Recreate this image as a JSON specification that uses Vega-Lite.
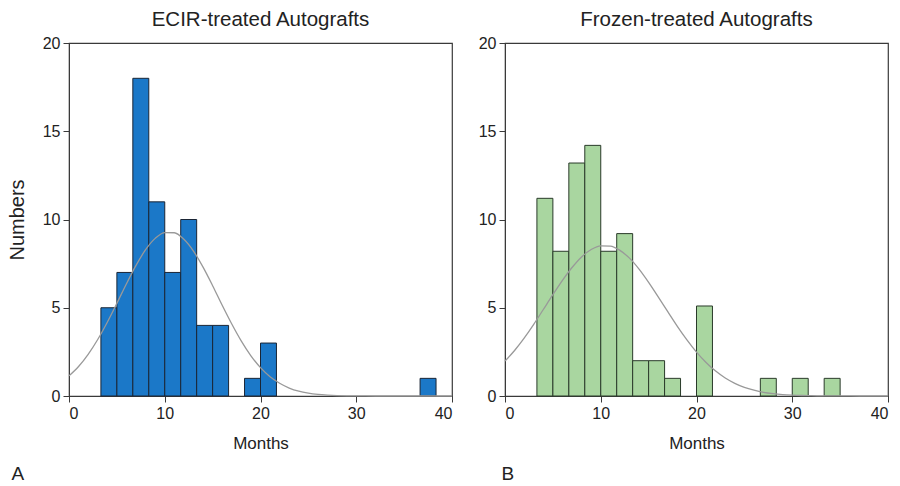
{
  "$schema": "https://vega.github.io/schema/vega-lite/v6.json",
  "padding": {"left": 6, "top": 8, "right": 5, "bottom": 0},
  "background": "white",
  "config": {
    "font": "Liberation Sans",
    "view": {"stroke": "#3a3a3a", "strokeWidth": 1.2},
    "axis": {
      "grid": false,
      "domainColor": "#3a3a3a",
      "tickColor": "#3a3a3a",
      "tickSize": 6,
      "labelFontSize": 16,
      "labelColor": "#222",
      "titleFontSize": 17,
      "titleFontWeight": "normal",
      "titleColor": "#222",
      "labelPadding": 3
    },
    "title": {"fontSize": 20.5, "fontWeight": "normal", "color": "#222", "offset": 5},
    "concat": {"spacing": 21}
  },
  "datasets": {
    "ecir_bars": [
      {"start": 3.333, "end": 5.0, "count": 5},
      {"start": 5.0, "end": 6.667, "count": 7},
      {"start": 6.667, "end": 8.333, "count": 18},
      {"start": 8.333, "end": 10.0, "count": 11},
      {"start": 10.0, "end": 11.667, "count": 7},
      {"start": 11.667, "end": 13.333, "count": 10},
      {"start": 13.333, "end": 15.0, "count": 4},
      {"start": 15.0, "end": 16.667, "count": 4},
      {"start": 18.333, "end": 20.0, "count": 1},
      {"start": 20.0, "end": 21.667, "count": 3},
      {"start": 36.667, "end": 38.333, "count": 1}
    ],
    "ecir_curve": [
      {"m": 0, "v": 1.14}, {"m": 1, "v": 1.67}, {"m": 2, "v": 2.36}, {"m": 3, "v": 3.2},
      {"m": 4, "v": 4.18}, {"m": 5, "v": 5.25}, {"m": 6, "v": 6.36}, {"m": 7, "v": 7.4},
      {"m": 8, "v": 8.29}, {"m": 9, "v": 8.93}, {"m": 10, "v": 9.26}, {"m": 11, "v": 9.25},
      {"m": 12, "v": 8.88}, {"m": 13, "v": 8.21}, {"m": 14, "v": 7.3}, {"m": 15, "v": 6.25},
      {"m": 16, "v": 5.14}, {"m": 17, "v": 4.08}, {"m": 18, "v": 3.11}, {"m": 19, "v": 2.28},
      {"m": 20, "v": 1.61}, {"m": 21, "v": 1.09}, {"m": 22, "v": 0.72}, {"m": 23, "v": 0.45},
      {"m": 24, "v": 0.27}, {"m": 25, "v": 0.16}, {"m": 26, "v": 0.09}, {"m": 27, "v": 0.05},
      {"m": 28, "v": 0.025}, {"m": 29, "v": 0.012}, {"m": 30, "v": 0.005}, {"m": 32, "v": 0.001},
      {"m": 35, "v": 0}, {"m": 40, "v": 0}
    ],
    "frozen_bars": [
      {"start": 3.333, "end": 5.0, "count": 11.2},
      {"start": 5.0, "end": 6.667, "count": 8.2},
      {"start": 6.667, "end": 8.333, "count": 13.2},
      {"start": 8.333, "end": 10.0, "count": 14.2},
      {"start": 10.0, "end": 11.667, "count": 8.2},
      {"start": 11.667, "end": 13.333, "count": 9.2},
      {"start": 13.333, "end": 15.0, "count": 2},
      {"start": 15.0, "end": 16.667, "count": 2},
      {"start": 16.667, "end": 18.333, "count": 1},
      {"start": 20.0, "end": 21.667, "count": 5.1},
      {"start": 26.667, "end": 28.333, "count": 1},
      {"start": 30.0, "end": 31.667, "count": 1},
      {"start": 33.333, "end": 35.0, "count": 1}
    ],
    "frozen_curve": [
      {"m": 0, "v": 1.98}, {"m": 1, "v": 2.58}, {"m": 2, "v": 3.28}, {"m": 3, "v": 4.06},
      {"m": 4, "v": 4.9}, {"m": 5, "v": 5.74}, {"m": 6, "v": 6.55}, {"m": 7, "v": 7.28},
      {"m": 8, "v": 7.88}, {"m": 9, "v": 8.3}, {"m": 10, "v": 8.51}, {"m": 11, "v": 8.49},
      {"m": 12, "v": 8.25}, {"m": 13, "v": 7.81}, {"m": 14, "v": 7.19}, {"m": 15, "v": 6.44},
      {"m": 16, "v": 5.62}, {"m": 17, "v": 4.78}, {"m": 18, "v": 3.95}, {"m": 19, "v": 3.18},
      {"m": 20, "v": 2.49}, {"m": 21, "v": 1.9}, {"m": 22, "v": 1.41}, {"m": 23, "v": 1.02},
      {"m": 24, "v": 0.72}, {"m": 25, "v": 0.49}, {"m": 26, "v": 0.33}, {"m": 27, "v": 0.21},
      {"m": 28, "v": 0.135}, {"m": 29, "v": 0.083}, {"m": 30, "v": 0.05}, {"m": 31, "v": 0.029},
      {"m": 32, "v": 0.016}, {"m": 33, "v": 0.009}, {"m": 34, "v": 0.005}, {"m": 35, "v": 0.003},
      {"m": 37, "v": 0.001}, {"m": 40, "v": 0}
    ]
  },
  "hconcat": [
    {
      "title": {"text": "A", "orient": "bottom", "anchor": "start", "fontSize": 19, "offset": 13, "dx": 5},
      "vconcat": [
        {
          "width": 383,
          "height": 353,
          "title": "ECIR-treated Autografts",
          "layer": [
            {
              "data": {"name": "ecir_bars"},
              "mark": {"type": "bar", "color": "#1b78c8", "stroke": "#1a2535", "strokeWidth": 1},
              "encoding": {
                "x": {"field": "start", "type": "quantitative", "scale": {"domain": [0, 40], "nice": false},
                      "axis": {"values": [0, 10, 20, 30, 40], "title": "Months", "titlePadding": 14}},
                "x2": {"field": "end"},
                "y": {"field": "count", "type": "quantitative", "scale": {"domain": [0, 20], "nice": false},
                      "axis": {"values": [0, 5, 10, 15, 20], "title": "Numbers", "titleFontSize": 20, "titlePadding": 15}},
                "y2": {"datum": 0}
              }
            },
            {
              "data": {"name": "ecir_curve"},
              "mark": {"type": "line", "color": "#999999", "strokeWidth": 1.3, "interpolate": "monotone"},
              "encoding": {
                "x": {"field": "m", "type": "quantitative"},
                "y": {"field": "v", "type": "quantitative"}
              }
            }
          ]
        }
      ]
    },
    {
      "title": {"text": "B", "orient": "bottom", "anchor": "start", "fontSize": 19, "offset": 13, "dx": 24},
      "vconcat": [
        {
          "width": 383,
          "height": 353,
          "title": "Frozen-treated Autografts",
          "layer": [
            {
              "data": {"name": "frozen_bars"},
              "mark": {"type": "bar", "color": "#a9d6a0", "stroke": "#2a3a2a", "strokeWidth": 1},
              "encoding": {
                "x": {"field": "start", "type": "quantitative", "scale": {"domain": [0, 40], "nice": false},
                      "axis": {"values": [0, 10, 20, 30, 40], "title": "Months", "titlePadding": 14}},
                "x2": {"field": "end"},
                "y": {"field": "count", "type": "quantitative", "scale": {"domain": [0, 20], "nice": false},
                      "axis": {"values": [0, 5, 10, 15, 20], "title": null}},
                "y2": {"datum": 0}
              }
            },
            {
              "data": {"name": "frozen_curve"},
              "mark": {"type": "line", "color": "#999999", "strokeWidth": 1.3, "interpolate": "monotone"},
              "encoding": {
                "x": {"field": "m", "type": "quantitative"},
                "y": {"field": "v", "type": "quantitative"}
              }
            }
          ]
        }
      ]
    }
  ]
}
